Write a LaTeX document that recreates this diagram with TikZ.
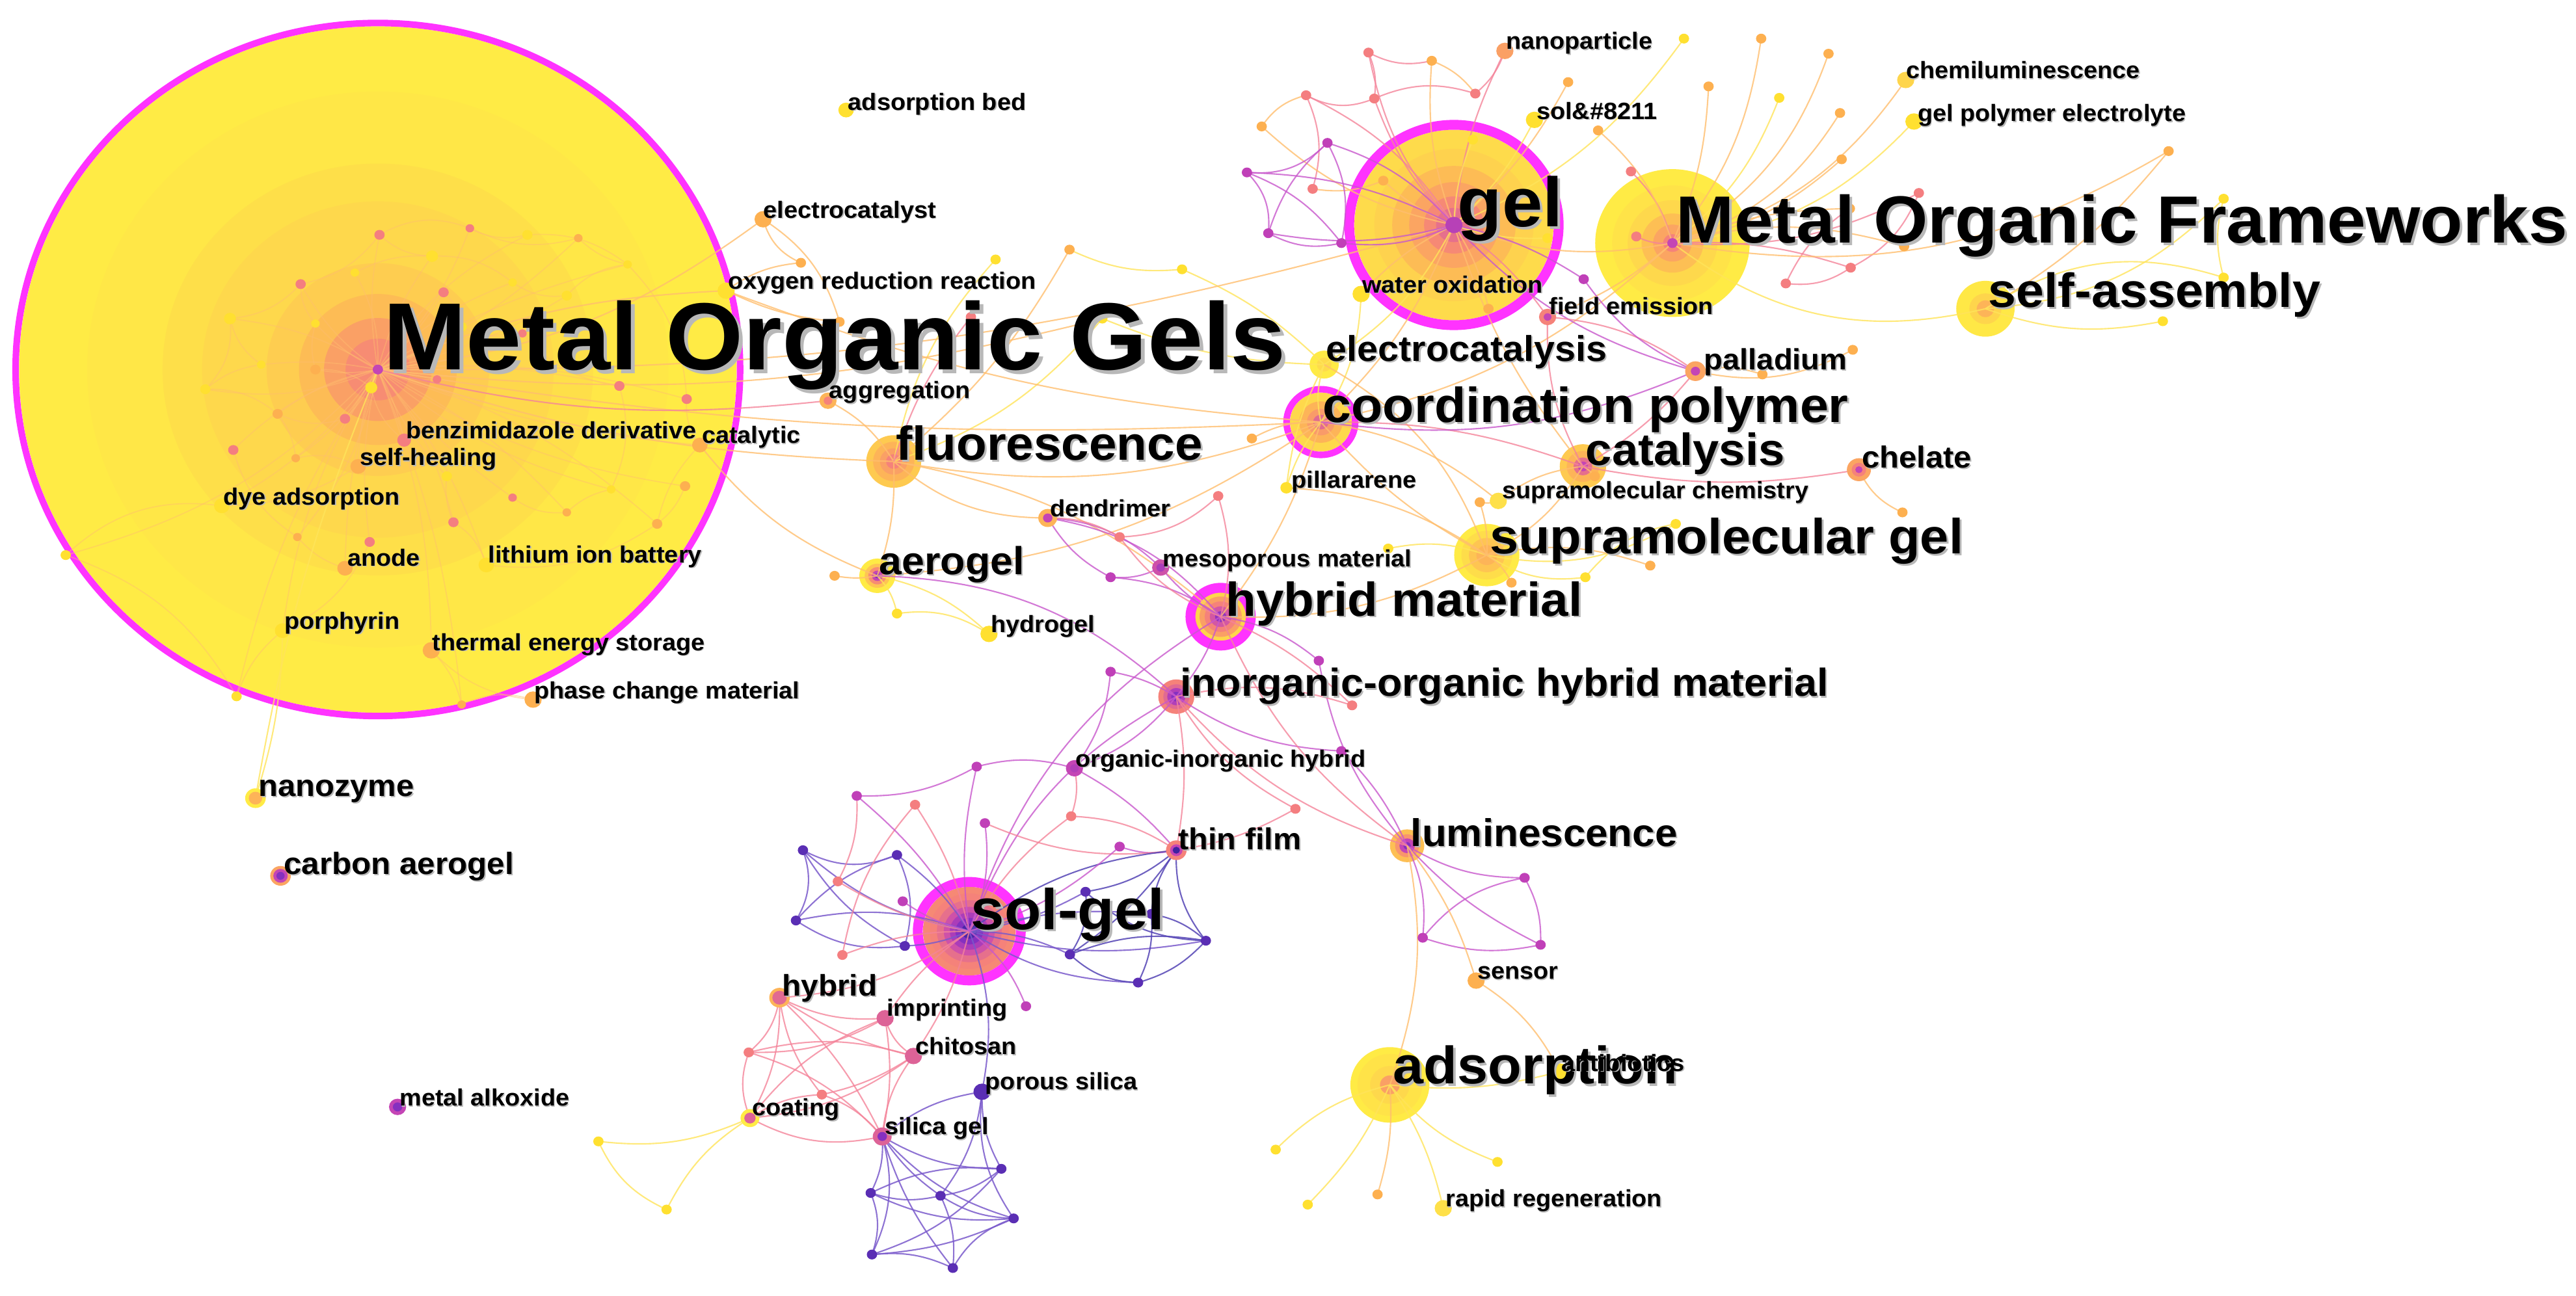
\documentclass[tikz,border=0pt]{standalone}
\usepackage{fontspec}
\setmainfont{Liberation Sans}[FakeStretch=1.045]
\usepackage{xcolor}
\usepackage{tikz}
\definecolor{hubM}{HTML}{FF33FF}
\definecolor{kY}{HTML}{FFEB45}
\definecolor{kO}{HTML}{FDB458}
\definecolor{kPk}{HTML}{F5827A}
\definecolor{kMg}{HTML}{C445B5}
\definecolor{kPu}{HTML}{8530C0}
\definecolor{kBl}{HTML}{3E22A0}
\definecolor{dY}{HTML}{FFE030}
\definecolor{dO}{HTML}{FDB050}
\definecolor{dPk}{HTML}{F47E80}
\definecolor{dMg}{HTML}{C040B8}
\definecolor{dPu}{HTML}{5A2EB4}
\definecolor{edY}{HTML}{FFE45A}
\definecolor{edO}{HTML}{FFBE6E}
\definecolor{edPk}{HTML}{F4849A}
\definecolor{edMg}{HTML}{C858CC}
\definecolor{edPu}{HTML}{7A5ACB}
\definecolor{edBl}{HTML}{5545B5}
% text with a soft drop shadow
\newcommand\shd[1]{\makebox[0pt][l]{\hspace{0.04em}\raisebox{-0.04em}{\color{black!28}#1}}#1}
% concentric year rings of a keyword
\newcommand\rings[3]{\foreach \fr/\cl in {#3}{\fill[\cl] (#1) ellipse [x radius={1.045*#2*\fr*0.25mm}, y radius={#2*\fr*0.25mm}];}}
\newcommand\hubring[3]{\draw[hubM, line width=#3] (#1) ellipse [x radius={1.045*#2*0.25mm}, y radius={#2*0.25mm}];}

\begin{document}
\begin{tikzpicture}[x=0.25mm, y=-0.25mm,
  kw/.style={anchor=base west, inner sep=0pt, font=\bfseries\fontsize{#1pt}{#1pt}\selectfont},
  lnY/.style={draw=edY, line width=.6pt, opacity=.8},
  lnO/.style={draw=edO, line width=.6pt, opacity=.8},
  lnF/.style={draw=edO, line width=.5pt, opacity=.45},
  lnPk/.style={draw=edPk, line width=.6pt, opacity=.8},
  lnMg/.style={draw=edMg, line width=.6pt, opacity=.8},
  lnPu/.style={draw=edPu, line width=.6pt, opacity=.85},
  lnBl/.style={draw=edBl, line width=.6pt, opacity=.85}]
\useasboundingbox (0,0) rectangle (1568,789);

% --- positions: labelled keywords ---
\foreach \nm/\x/\y in {mog/230/225, gel/885/137, mof/1018/148, sa/1208.5/188, cp/804/257, elc/806/222,
  fl/544/281, cat/963.5/284, chel/1131.5/286, supg/905/338, supc/912/305, pil/783/297, pall/1032/226,
  fe/942/193, wo/828.5/179, np/916/31, sol/934/73, chem/1160/48.7, gpe/1165/74, abed/515/67,
  elct/464.5/133.5, orr/442/177, agg/504/244, ctl/426/271, bzd/246/268, sh/218/284, dye/135/308,
  anode/210/346, lib/296/344, por/172/384, tes/262.5/396, pcm/324.5/426, nzm/155.5/486, cae/170.75/533.3,
  aer/534/350.6, hyd/602/386, den/637.75/315.4, meso/706.5/345.6, hm/743/375.5, iohm/716/424.2,
  oih/654/467.8, tf/716/517.7, lum/856.5/515, sen/898.5/597.1, ads/846/660.6, anti/949.5/652.5,
  rr/878.5/735.7, sg/590/567, hyb/474.5/607.5, imp/538.75/620, chi/556/643, ps/597.75/664.8,
  coat/456.5/680.8, sig/537/692, alk/242/674}
  \coordinate (\nm) at (\x,\y);
% --- positions: unlabelled keywords ---
\foreach \nm/\x/\y in {m1/231/143, m2/286/139, m3/321/143, m4/352/145, m5/183/173, m6/216/166, m7/263/156,
  m8/270/178, m9/312/172, m10/345/180, m11/382/161, m12/140/194, m13/192/197, m14/281/199, m15/318/203,
  m16/159/222, m17/192/225, m18/266/231, m19/125/237, m20/226/236, m21/377/235, m22/169/252, m23/210/255,
  m24/142/274, m25/180/279, m26/272/290, m27/276/318, m28/312/303, m29/345/312, m30/372/298, m31/181/327,
  m32/225/330, m33/40/338, m34/144/424, m35/281/429, m36/418/243, m37/417/296, m38/400/319,
  e1/487.5/160, e2/511/196, x1/606/158, x2/651/152, x3/719.5/164, x4/671/194, x5/591/193,
  g1/833/32, g2/871.5/37, g3/795/58, g4/836.5/60, g5/898/57, g6/954.5/50, g7/808/87, g8/816.5/148,
  g9/799/115, g10/842/110, g11/896.5/85, g12/942/145, g13/906/188, g14/964/170, g15/759/105, g16/772/142,
  g17/768/77, g18/972.75/79.4, g19/992.75/104.4, g20/996/144,
  f1/1025/23.5, f2/1072/23.5, f3/1113/32.7, f4/1040/52.6, f5/1083/59.6, f6/1120/68.8, f7/1121/97,
  f8/1168/117.5, f9/1126/127, f10/1159/150, f11/1126.5/163, f12/1087/172.6,
  s1/1320/92, s2/1353.5/121, s3/1353.5/169, s4/1316.5/195.6,
  c1/762/267, p1/1127.75/213, p2/1072.75/228, k1/970.75/290, ch1/1158/312, sg1/1020/319, sg2/1004.5/344.4,
  sg3/965/351.5, sg4/920/354.8, sg5/845/334, sg6/900.75/305.8,
  h1/676/351.5, h2/681.5/327, h3/741.5/302, h4/802.75/402.3, h5/823/429.5, i1/676/409, i2/816.5/457.3,
  i3/788.5/492.5, a1/508/350.6, a2/546/373.6, l1/928/534.5, l2/866/571, l3/937.75/575.3,
  d1/911.5/707.5, d2/838.5/727.3, d3/796/733.5, d4/776.5/700,
  t1/681.5/515.5, t2/652/497, t3/599.5/501.2, t4/594.5/466.8, t5/557/490, t6/521.5/484.6,
  o1/488.75/517.7, o2/546/520.6, o3/484.5/560.5, o4/550.75/576, o5/510/536.7, o6/512.75/581.5, o7/549.5/548.8,
  r1/660.75/543, r2/700.75/556.5, r3/734/572.8, r4/651.25/581.2, r5/692.75/598.3, r6/624.5/612.7,
  hb1/455.75/640.8, hb2/500.25/666.5, q1/609.5/711.7, q2/530/726.4, q3/572.5/728.1, q4/617/741.9,
  q5/530.75/763.9, q6/580/772.1, y1/364.25/695, y2/405.75/736.5}
  \coordinate (\nm) at (\x,\y);

% --- hub keywords ---
\rings{mog}{209}{1/kY, .81/kY!92!kO, .6/kY!78!kO, .49/kY!65!kO, .31/kY!45!kO, .22/kO!85!kY, .15/kO!60!kPk, .09/kPk!80!kO}
\hubring{mog}{211}{1mm}
\rings{gel}{58}{1/kY!70!kO, .8/kY!55!kO, .62/kO!85!kY, .45/kO!70!kPk, .3/kPk!85!kO, .18/kPk!70!kMg}
\hubring{gel}{61}{1.5mm}
\rings{mof}{45}{1/kY, .78/kY!85!kO, .58/kY!65!kO, .4/kO!80!kY, .25/kO!70!kPk, .12/kPk}
\rings{sa}{17}{1/kY!95!kO, .55/kY!60!kO, .3/kO}
\rings{cp}{18}{1/kY!65!kO, .7/kO, .45/kO!50!kPk, .25/kPk!60!kMg}
\hubring{cp}{20}{1mm}
\rings{elc}{8.5}{1/kY, .5/kY!70!kO}
\rings{fl}{16}{1/kO!60!kY, .75/kO, .5/kO!60!kPk, .28/kPk}
\rings{cat}{13.5}{1/kO!60!kY, .7/kO, .4/kPk!70!kMg, .22/kMg}
\rings{supg}{19}{1/kY, .78/kY!75!kO, .55/kO!70!kY, .32/kO}
\rings{aer}{10.5}{1/kY, .7/kO!70!kY, .5/kPk!80!kO, .3/kMg, .15/kPu}
\rings{hm}{15}{1/kY!60!kO, .82/kO!60!kPk, .62/kPk, .42/kMg!70!kPk, .22/kPu!80!kMg}
\hubring{hm}{17.6}{1.5mm}
\rings{iohm}{10.5}{1/kPk, .72/kPk!60!kMg, .5/kMg!70!kPu, .28/kPu}
\rings{lum}{10}{1/kO!80!kY, .7/kPk!60!kO, .45/kMg, .22/kPu}
\rings{sg}{27}{1/kPk!85!kO, .85/kPk, .7/kPk!70!kMg, .55/kMg!80!kPk, .42/kMg!60!kPu, .3/kPu, .17/kBl!80!kPu, .08/kBl}
\hubring{sg}{30}{1.5mm}
\rings{ads}{23}{1/kY, .82/kY!85!kO, .5/kY!65!kO, .25/kO!60!kPk}

% --- links: Metal Organic Gels ---
\foreach \pb/\bk in {m1/10,m2/-12,m3/15,m4/-10,m5/12,m6/-15,m7/10,m8/-8,m9/12,m10/-10,m11/8,m12/-12,m13/10,
  m14/-10,m15/12,m16/-8,m17/10,m18/-12,m19/15,m20/-10,m21/8,m22/-12,m23/10,m24/-15,m25/12,m26/-10,m27/12,
  m28/-8,m29/10,m30/-12,m31/14,m32/-10,bzd/8,sh/-10,dye/12,anode/-8,lib/10,por/-12,tes/10,ctl/-8,m36/10,
  m37/-12,m38/12,m33/15,m34/-10,m35/8}
  \draw[lnF] (mog) to[bend left=\bk] (\pb);
\foreach \pa/\pb/\bk in {m1/m5/20, m1/m7/-20, m1/m2/25, m2/m4/-20, m3/m11/20, m4/m11/-15, m5/m12/20,
  m5/m13/-20, m6/m7/15, m8/m14/20, m9/m10/-20, m10/m11/20, m12/m16/-20, m12/m19/25, m16/m19/-15, m19/m22/20,
  m22/m23/-20, m22/m25/15, m24/m31/-20, m25/sh/20, m26/m27/-15, m27/lib/20, m28/m29/-20, m29/m30/15,
  m30/m21/-20, m21/m15/20, m31/anode/-15, m32/por/20, dye/m33/-25, m33/m34/20, por/m34/-15, tes/m35/15,
  tes/pcm/-20, m35/pcm/20, lib/m38/-20, m38/ctl/15, m36/ctl/-20, m37/m38/15, m20/bzd/-20, sh/dye/15,
  m2/m3/-20, m7/m9/20, m14/m15/-20, m17/m20/20, m13/m17/-15, m11/m36/20}
  \draw[lnF] (\pa) to[bend left=\bk] (\pb);
\foreach \pa/\pb/\bk in {nzm/por/-8, nzm/mog/6, x1/fl/-15, x2/x3/-15, x3/elc/10, x4/fl/15, x4/elc/-10,
  aer/a2/15, aer/hyd/15, a2/hyd/20}
  \draw[lnY] (\pa) to[bend left=\bk] (\pb);
\foreach \pa/\pb/\bk in {mog/elct/-15, mog/orr/10, elct/e1/-25, elct/e2/20, orr/e1/15, orr/e2/-10,
  agg/fl/15, mog/x4/-10, x2/fl/10, orr/cp/-8, mog/cp/-6, mog/gel/-8, ctl/aer/-15, mog/fl/-8, fl/den/-20,
  fl/cp/-15, fl/hm/15, aer/a1/10, aer/cp/-15, aer/fl/-10}
  \draw[lnO] (\pa) to[bend left=\bk] (\pb);
\foreach \pa/\pb/\bk in {mog/agg/-10, x5/fl/-10}
  \draw[lnPk] (\pa) to[bend left=\bk] (\pb);
\draw[lnMg] (aer) to[bend left=20] (iohm);

% --- links: gel and Metal Organic Frameworks ---
\foreach \pa/\pb/\bk in {gel/g1/15, g1/g2/-20, g3/g9/20, g3/g4/-25, g4/g5/20, g5/np/-15, gel/np/10,
  gel/g3/-15, gel/g4/12, gel/fe/10, g1/g4/15, mof/g19/-15, mof/g20/15, mof/f8/-15, f8/f11/20, f9/f12/-15,
  f12/f11/-20, mof/f11/10}
  \draw[lnPk] (\pa) to[bend left=\bk] (\pb);
\foreach \pa/\pb/\bk in {g2/g5/15, g9/g10/-15, gel/g10/10, gel/g6/-10, gel/g2/12, gel/g13/10, gel/wo/-10,
  gel/cp/12, gel/cat/-10, gel/g17/15, g17/g3/20, mof/g18/-15, mof/f2/-15, mof/f3/-20, mof/f4/-10,
  mof/f6/-20, mof/f7/-15, mof/chem/-20, mof/f9/10, mof/f10/15, mof/gel/15, mof/fe/10, mof/cp/15,
  mof/s1/-20, sa/s1/-10}
  \draw[lnO] (\pa) to[bend left=\bk] (\pb);
\foreach \pa/\pb/\bk in {gel/sol/-10, gel/g11/10, gel/g12/-10, gel/elc/15, gel/f1/-15, mof/f5/-15,
  mof/gpe/-20, mof/sa/-25, sa/s2/-20, sa/s3/25, sa/s4/-15, s2/s3/-15}
  \draw[lnY] (\pa) to[bend left=\bk] (\pb);
\foreach \pa/\pb/\bk in {gel/g7/-15, gel/g8/15, gel/g15/-12, gel/g16/12, g15/g7/-25, g15/g16/25,
  g16/g8/-20, g7/g8/20, g15/g8/15, g7/g16/-15, gel/g14/10, gel/pall/-15}
  \draw[lnMg] (\pa) to[bend left=\bk] (\pb);

% --- links: coordination polymer, catalysis, supramolecular gel ---
\foreach \pa/\pb/\bk in {cp/elc/15, cp/pil/-10, cp/wo/-15, supg/sg1/-20, supg/sg3/-20, supg/sg5/-15,
  sg1/sg3/-20, elc/pil/-10}
  \draw[lnY] (\pa) to[bend left=\bk] (\pb);
\foreach \pa/\pb/\bk in {cp/supg/-10, cp/hm/10, cp/c1/-15, cp/supc/15, pall/p1/-20, pall/p2/15,
  cat/supg/15, cat/supc/-15, cat/k1/10, chel/ch1/-20, supg/sg2/15, supg/sg4/15, supg/sg6/-10, supg/hm/15,
  supg/pil/-15, supc/sg6/15, elc/supg/20}
  \draw[lnO] (\pa) to[bend left=\bk] (\pb);
\foreach \pa/\pb/\bk in {cp/cat/10, pall/fe/-15, pall/cat/10, cat/chel/-10, cat/fe/15}
  \draw[lnPk] (\pa) to[bend left=\bk] (\pb);
\foreach \pa/\pb/\bk in {cp/pall/-15, pall/g14/15}
  \draw[lnMg] (\pa) to[bend left=\bk] (\pb);

% --- links: hybrid material, luminescence, adsorption ---
\foreach \pa/\pb/\bk in {hm/den/-20, hm/meso/10, hm/h1/-15, hm/iohm/10, hm/sg/-20, hm/h4/15, den/h1/-15,
  meso/h1/15, den/meso/20, iohm/i1/-10, iohm/oih/15, iohm/sg/-20, iohm/i2/-15, i1/oih/15, tf/oih/-10,
  tf/t1/15, oih/t4/-15, lum/l1/-15, lum/l2/15, lum/l3/-10, l1/l2/-20, l1/l3/15, l2/l3/-15, lum/i2/-10,
  lum/h4/15, t6/t4/-15}
  \draw[lnMg] (\pa) to[bend left=\bk] (\pb);
\foreach \pa/\pb/\bk in {hm/h2/15, hm/h3/-15, hm/h5/10, hm/lum/-15, den/h2/15, h2/h3/-20, iohm/tf/10,
  iohm/lum/-15, iohm/h5/15, iohm/i3/-15, tf/t2/-15, tf/t3/15, tf/i3/-10, oih/t2/15}
  \draw[lnPk] (\pa) to[bend left=\bk] (\pb);
\foreach \pa/\pb/\bk in {lum/sen/10, lum/ads/15, sen/anti/15, ads/d2/10}
  \draw[lnO] (\pa) to[bend left=\bk] (\pb);
\foreach \pa/\pb/\bk in {ads/anti/-10, ads/d1/-15, ads/rr/10, ads/d3/10, ads/d4/-15}
  \draw[lnY] (\pa) to[bend left=\bk] (\pb);

% --- links: sol-gel ---
\foreach \pa/\pb/\bk in {sg/o1/15, sg/o2/-10, sg/o3/-15, sg/o4/10, sg/r1/-10, sg/r2/10, sg/r3/-12,
  sg/r4/12, sg/r5/-15, sg/ps/15, o1/o2/-25, o1/o3/25, o3/o4/-20, o2/o4/20, o1/o4/-15, o3/o2/15,
  sig/q1/-15, sig/q2/15, sig/q3/-10, sig/q4/-15, sig/q5/20, sig/q6/-10, ps/sig/-15, ps/q1/-15, ps/q4/-20,
  ps/q3/15, q1/q2/-15, q1/q3/15, q2/q3/-15, q2/q5/20, q3/q4/-15, q3/q6/15, q4/q6/-20, q5/q6/15,
  q5/q4/-10, q1/q5/15, q2/q4/-15}
  \draw[lnPu] (\pa) to[bend left=\bk] (\pb);
\foreach \pa/\pb/\bk in {tf/sg/-15, tf/r1/15, tf/r2/-15, r1/r3/-20, r4/r3/15, r5/r3/-15, r4/r5/-20,
  r2/r5/15, r1/r4/20, tf/r3/-20, r2/r3/15, tf/r4/10}
  \draw[lnBl] (\pa) to[bend left=\bk] (\pb);
\foreach \pa/\pb/\bk in {sg/o5/10, sg/o6/-10, sg/t5/-10, sg/hyb/15, sg/imp/-10, sg/chi/10, t6/o5/15,
  t5/o6/-15, sg/t2/12, hyb/imp/-15, hyb/chi/-10, hyb/coat/15, hyb/sig/10, hyb/hb1/20, hyb/hb2/-15,
  imp/chi/-20, imp/hb1/15, imp/coat/-15, imp/sig/10, chi/hb1/-15, chi/coat/15, chi/sig/-15, chi/hb2/10,
  hb1/coat/-20, hb1/sig/15, hb2/coat/-15, hb2/sig/15, coat/sig/-20}
  \draw[lnPk] (\pa) to[bend left=\bk] (\pb);
\foreach \pa/\pb/\bk in {sg/o7/10, sg/t3/-15, sg/t4/10, sg/t6/-10, sg/r6/15, sg/t1/-12}
  \draw[lnMg] (\pa) to[bend left=\bk] (\pb);
\foreach \pa/\pb/\bk in {coat/y1/15, coat/y2/-15, y1/y2/-20}
  \draw[lnY] (\pa) to[bend left=\bk] (\pb);

% --- small keywords ---
\foreach \nm/\cl/\rd in {m1/dPk/3, m2/dPk/2.5, m3/dY/3, m4/dO/2.5, m5/dPk/3, m6/dY/2.5, m7/dY/3.5,
  m8/dPk/3, m9/dY/2.5, m10/dY/3, m11/dY/2.5, m12/dY/3.5, m13/dY/2.5, m14/dY/3, m15/dPk/2.5, m16/dY/2.5,
  m17/dO/3, m18/dPk/2.5, m19/dY/3, m20/dY/3.5, m21/dPk/3, m22/dO/3, m23/dPk/3, m24/dPk/3, m25/dO/2.5,
  m26/dY/3, m27/dPk/3, m28/dPk/2.5, m29/dO/2.5, m30/dY/2.5, m31/dO/2.5, m32/dPk/3, m33/dY/3, m34/dY/3,
  m35/dO/2.5, m36/dPk/3, m37/dO/3, m38/dO/3,
  e1/dO/3, e2/dO/3, x1/dY/3, x2/dO/3, x3/dY/3, x4/dY/3, x5/dPk/3,
  g1/dPk/3, g2/dO/3, g3/dPk/3, g4/dPk/3, g5/dPk/3, g6/dO/3, g7/dMg/3, g8/dMg/3, g9/dPk/3, g10/dO/3,
  g11/dY/3, g12/dY/3, g13/dO/3, g14/dMg/3, g15/dMg/3, g16/dMg/3, g17/dO/3, g18/dO/3, g19/dPk/3, g20/dPk/3,
  f1/dY/3, f2/dO/3, f3/dO/3, f4/dO/3, f5/dY/3, f6/dO/3, f7/dO/3, f8/dPk/3, f9/dO/3, f10/dO/3, f11/dPk/3,
  f12/dPk/3, s1/dO/3, s2/dY/3, s3/dY/3, s4/dY/3,
  c1/dO/3, p1/dO/3, p2/dO/3, k1/dO/3, ch1/dO/3, sg1/dY/3, sg2/dO/3, sg3/dY/3, sg4/dO/3, sg5/dY/3, sg6/dO/3,
  h1/dMg/3, h2/dPk/3, h3/dPk/3, h4/dMg/3, h5/dPk/3, i1/dMg/3, i2/dMg/3, i3/dPk/3, a1/dO/3, a2/dY/3,
  l1/dMg/3, l2/dMg/3, l3/dMg/3, d1/dY/3, d2/dO/3, d3/dY/3, d4/dY/3,
  t1/dMg/3, t2/dPk/3, t3/dMg/3, t4/dMg/3, t5/dPk/3, t6/dMg/3, o1/dPu/3, o2/dPu/3, o3/dPu/3, o4/dPu/3,
  o5/dPk/3, o6/dPk/3, o7/dMg/3, r1/dPu/3, r2/dPu/3, r3/dPu/3, r4/dPu/3, r5/dPu/3, r6/dMg/3,
  hb1/dPk/3, hb2/dPk/3, q1/dPu/3, q2/dPu/3, q3/dPu/3, q4/dPu/3, q5/dPu/3, q6/dPu/3, y1/dY/3, y2/dY/3,
  pil/dY/3.5, abed/dY/4.5, orr/dY/5, elct/dO/5, ctl/dO/4.5, bzd/dPk/4, sh/dO/4.5, dye/dY/4.5,
  anode/dO/4.5, lib/dY/4.5, por/dY/4.5, tes/dO/5, pcm/dO/5, wo/dY/5, np/kO!60!kPk/5, sol/dY/5,
  chem/kY!60!kO/5, gpe/dY/5, sen/dO/5, anti/dY/5, rr/kY!80!kO/5, hyd/dY/5, supc/kY!80!kO/5, ps/dPu/5,
  imp/kPk!50!kMg/5, chi/kPk!50!kMg/5}
  \fill[\cl] (\nm) ellipse [x radius={1.045*\rd*0.25mm}, y radius={\rd*0.25mm}];
\rings{agg}{5}{1/kO, .5/kPk}
\rings{mog}{3}{1/kMg}
\rings{gel}{5}{1/kMg!80!kPu}
\rings{mof}{3}{1/kMg}
\rings{chel}{7}{1/kO!70!kPk, .6/kPk, .3/kMg}
\rings{fe}{5}{1/kPk, .45/kMg}
\rings{tf}{6}{1/kPk, .6/kMg, .35/kBl}
\rings{nzm}{6}{1/kY, .65/kO}
\rings{cae}{6}{1/kO!70!kPk, .7/kMg, .4/kPu}
\rings{alk}{5}{1/kMg, .55/kPu}
\rings{hyb}{6}{1/kO, .7/kPk!60!kMg}
\rings{coat}{5.5}{1/kY, .6/kPk!50!kMg}
\rings{sig}{5.5}{1/kPk!50!kMg, .5/kPu}
\rings{pall}{6}{1/kO!70!kPk, .45/kMg}
\rings{den}{5.5}{1/kO, .5/kMg}
\rings{meso}{5}{1/kMg!80!kPk, .5/kMg!60!kPu}
\rings{oih}{5}{1/kMg, .5/kMg!70!kPu}

% --- labels ---
\node[kw=41.3] (mog-l) at (233,225) {\shd{Metal Organic Gels}};
\node[kw=30.2] (gel-l) at (887,138) {\shd{gel}};
\node[kw=28.9] (mof-l) at (1020,148) {\shd{Metal Organic Frameworks}};
\node[kw=20.8] (sa-l) at (1210,187) {\shd{self-assembly}};
\node[kw=21.3] (cp-l) at (805,257) {\shd{coordination polymer}};
\node[kw=15.5] (elc-l) at (807,220) {\shd{electrocatalysis}};
\node[kw=12.7] (pall-l) at (1037,225) {\shd{palladium}};
\node[kw=19.5] (cat-l) at (965,283.5) {\shd{catalysis}};
\node[kw=13.2] (chel-l) at (1133,285) {\shd{chelate}};
\node[kw=20.6] (fl-l) at (545,280) {\shd{fluorescence}};
\node[kw=21.4] (supg-l) at (906.5,337) {\shd{supramolecular gel}};
\node[kw=10.2] (supc-l) at (914,303.6) {\shd{supramolecular chemistry}};
\node[kw=10.2] (pil-l) at (786,297) {\shd{pillararene}};
\node[kw=16.9] (aer-l) at (535,349.8) {\shd{aerogel}};
\node[kw=10.2] (den-l) at (639,314.5) {\shd{dendrimer}};
\node[kw=10.2] (meso-l) at (707.5,345.2) {\shd{mesoporous material}};
\node[kw=20.6] (hm-l) at (746,375) {\shd{hybrid material}};
\node[kw=10.2] (hyd-l) at (603,385) {\shd{hydrogel}};
\node[kw=16.9] (iohm-l) at (718,424) {\shd{inorganic-organic hybrid material}};
\node[kw=10.2] (oih-l) at (654.5,467) {\shd{organic-inorganic hybrid}};
\node[kw=13.1] (tf-l) at (717,517.2) {\shd{thin film}};
\node[kw=16.7] (lum-l) at (858.5,515.2) {\shd{luminescence}};
\node[kw=24.9] (sg-l) at (590.75,566) {\shd{sol-gel}};
\node[kw=22.8] (ads-l) at (847.75,660) {\shd{adsorption}};
\node[kw=10.2] (anti-l) at (950.25,652.2) {\shd{antibiotics}};
\node[kw=10.2] (sen-l) at (899,596.3) {\shd{sensor}};
\node[kw=10.2] (rr-l) at (879.75,734.8) {\shd{rapid regeneration}};
\node[kw=12.9] (hyb-l) at (475.75,606.4) {\shd{hybrid}};
\node[kw=10.2] (imp-l) at (539.5,618.6) {\shd{imprinting}};
\node[kw=10.2] (chi-l) at (557,642.1) {\shd{chitosan}};
\node[kw=10.2] (ps-l) at (599.5,663.5) {\shd{porous silica}};
\node[kw=10.2] (coat-l) at (457.5,679.4) {\shd{coating}};
\node[kw=10.2] (sig-l) at (538.25,690.8) {\shd{silica gel}};
\node[kw=10.2] (alk-l) at (243,673.5) {\shd{metal alkoxide}};
\node[kw=13.3] (cae-l) at (172.5,532.5) {\shd{carbon aerogel}};
\node[kw=13.2] (nzm-l) at (157,485) {\shd{nanozyme}};
\node[kw=10.2] (pcm-l) at (325,425.4) {\shd{phase change material}};
\node[kw=10.2] (tes-l) at (263,396) {\shd{thermal energy storage}};
\node[kw=10.2] (por-l) at (173,382.9) {\shd{porphyrin}};
\node[kw=10.2] (anode-l) at (211.25,344.7) {\shd{anode}};
\node[kw=10.2] (lib-l) at (297,342.6) {\shd{lithium ion battery}};
\node[kw=10.2] (dye-l) at (135.75,307.3) {\shd{dye adsorption}};
\node[kw=10.2] (sh-l) at (218.75,283.5) {\shd{self-healing}};
\node[kw=10.2] (bzd-l) at (247,267) {\shd{benzimidazole derivative}};
\node[kw=10.2] (ctl-l) at (427,270) {\shd{catalytic}};
\node[kw=10.2] (agg-l) at (504.5,242.6) {\shd{aggregation}};
\node[kw=10.2] (orr-l) at (443,176) {\shd{oxygen reduction reaction}};
\node[kw=10.2] (elct-l) at (464.5,132.7) {\shd{electrocatalyst}};
\node[kw=10.2] (abed-l) at (516,67) {\shd{adsorption bed}};
\node[kw=10.2] (np-l) at (916.5,30) {\shd{nanoparticle}};
\node[kw=10.2] (sol-l) at (935,72.5) {\shd{sol\&\#8211}};
\node[kw=10.2] (wo-l) at (829,178.3) {\shd{water oxidation}};
\node[kw=10.2] (fe-l) at (942.75,191.4) {\shd{field emission}};
\node[kw=10.2] (chem-l) at (1160,47.9) {\shd{chemiluminescence}};
\node[kw=10.2] (gpe-l) at (1167,73.9) {\shd{gel polymer electrolyte}};
\end{tikzpicture}
\end{document}
